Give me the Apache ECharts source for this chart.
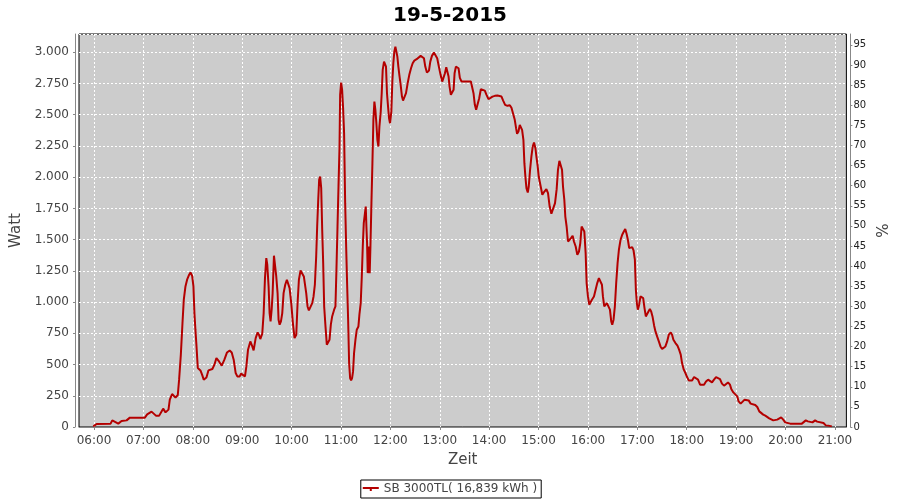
<!DOCTYPE html>
<html>
<head>
<meta charset="utf-8">
<script src="https://cdn.jsdelivr.net/npm/echarts@6/dist/echarts.min.js"></script>
<style>
html,body{margin:0;padding:0;background:#fff;}
#chart{width:900px;height:500px;}
</style>
</head>
<body>
<div id="chart"></div>
<script>
// Chart text
const titleText = "19-5-2015";
const seriesName = "SB 3000TL( 16,839 kWh )";
const xAxisName = "Zeit";
const yAxisName = "Watt";
const y2AxisName = "%";

// X tick positions (minutes since midnight) and labels
const hourTicks = [360, 420, 480, 540, 600, 660, 720, 780, 840, 900, 960, 1020, 1080, 1140, 1200, 1260];
const hourLabels = ["06:00","07:00","08:00","09:00","10:00","11:00","12:00","13:00","14:00","15:00","16:00","17:00","18:00","19:00","20:00","21:00"];

// Sample times (minutes since midnight)
const times = [
359.2,363.2,380.2,382.2,384.6,389.5,393.5,399.6,403.6,421.8,424.6,429.9,435.2,439.2,444.0,446.9,450.5,452.1,454.9,457.0,
459.0,461.8,463.4,465.5,467.5,469.1,471.1,473.1,475.6,477.2,479.2,480.8,482.0,483.2,484.4,486.1,489.3,491.3,493.3,496.6,
499.0,503.8,506.3,508.7,511.9,515.2,518.4,521.6,524.8,527.3,529.7,532.1,534.1,537.0,538.6,541.0,543.4,545.1,547.1,549.9,
552.3,553.9,556.4,558.8,560.4,562.0,564.4,566.1,567.7,569.3,570.5,572.1,573.3,574.5,575.8,577.0,578.6,580.2,581.4,583.0,
584.2,585.5,587.1,588.7,590.3,592.3,594.3,596.0,597.6,599.6,601.6,603.6,605.7,607.3,608.9,610.9,612.9,614.9,617.8,619.4,
621.0,623.4,625.1,626.7,628.3,629.9,631.1,632.3,633.5,634.7,636.0,637.2,638.4,639.6,641.2,642.8,644.4,646.1,647.7,649.3,
651.7,653.3,654.5,655.8,657.0,658.2,659.0,660.2,661.4,662.6,663.8,665.1,666.3,667.5,668.7,669.9,671.1,672.3,673.5,674.7,
675.9,677.6,679.2,681.2,682.4,684.0,685.3,686.5,687.7,688.9,690.1,690.9,691.7,692.5,693.3,694.1,694.9,695.8,697.0,698.2,
699.4,700.6,701.8,703.0,704.2,705.5,706.7,708.3,709.5,710.7,712.3,713.5,714.7,715.9,717.2,718.4,719.6,721.2,722.4,723.6,
724.8,726.1,727.3,728.5,729.7,730.9,732.5,734.1,735.4,737.0,739.0,741.0,743.0,745.1,747.1,749.1,751.9,754.3,756.8,758.8,
760.8,762.4,764.4,766.9,768.5,770.5,772.9,774.9,776.9,778.9,781.0,783.0,784.6,786.3,787.9,789.5,790.7,791.9,793.5,795.2,
796.8,798.0,799.6,801.2,802.8,804.4,806.5,811.7,817.8,819.4,821.0,822.6,824.2,825.9,827.9,829.9,832.3,834.7,836.8,839.2,
841.6,844.0,846.9,850.1,855.0,857.0,859.4,862.2,865.1,867.1,869.1,871.1,872.7,873.9,875.6,877.2,878.8,880.0,881.6,882.8,
884.0,885.3,886.9,888.1,889.7,891.3,892.9,894.5,896.2,897.4,899.0,900.2,902.6,904.6,907.1,909.5,911.5,913.5,915.6,918.0,
920.0,922.0,923.6,925.3,926.9,928.5,929.7,931.3,932.5,934.1,935.8,937.8,939.4,941.4,943.0,945.1,947.1,949.1,950.7,952.3,
953.9,955.6,957.2,958.4,960.0,961.6,963.2,964.8,967.3,969.3,971.3,973.3,975.4,977.0,978.2,979.8,981.4,983.0,985.1,986.7,
988.3,989.5,991.1,992.7,994.3,996.0,997.6,999.6,1001.6,1003.6,1005.3,1006.9,1008.5,1010.1,1012.1,1013.7,1015.4,1017.0,1018.2,1019.4,
1020.6,1022.2,1023.8,1025.5,1027.1,1028.7,1030.3,1031.9,1033.5,1035.2,1036.8,1038.4,1040.4,1042.0,1044.0,1046.1,1048.1,1050.1,1052.1,1054.1,
1056.2,1058.2,1060.6,1062.2,1063.8,1066.3,1068.7,1070.7,1072.7,1074.3,1076.4,1078.4,1080.4,1082.4,1084.4,1086.5,1088.9,1091.3,1093.7,1096.2,
1098.6,1101.0,1103.4,1105.9,1108.3,1110.7,1113.1,1115.6,1118.0,1120.4,1122.8,1125.3,1127.7,1130.1,1132.5,1134.1,1136.6,1139.0,1141.4,1143.0,
1145.5,1147.9,1150.3,1152.7,1155.2,1157.6,1160.0,1163.2,1165.7,1168.1,1170.5,1172.9,1175.4,1177.8,1180.2,1182.6,1185.1,1187.5,1189.9,1192.3,
1194.7,1197.2,1199.6,1202.0,1205.7,1219.8,1222.2,1224.6,1227.1,1229.5,1232.7,1235.9,1238.4,1240.8,1246.1,1248.9,1252.1,1256.2
];

// Power output (W) at each sample time
const watt = [
5,24,27,53,53,27,48,53,75,75,101,123,91,91,147,117,139,219,264,267,
235,256,379,579,832,1019,1125,1179,1219,1237,1211,1125,912,779,659,472,453,419,379,397,
453,464,499,552,525,491,539,597,613,597,539,432,405,405,427,411,405,485,619,685,
645,613,712,757,739,704,747,912,1192,1352,1299,1125,912,845,939,1072,1371,1365,1205,1072,
859,819,845,912,1072,1139,1179,1173,1112,992,832,712,739,992,1179,1253,1264,1205,1072,965,
933,933,992,1045,1139,1365,1605,1805,1979,2005,1912,1579,1312,965,805,659,672,699,819,885,
939,965,1259,1605,1925,2232,2659,2757,2699,2552,2352,1792,1445,1139,859,512,392,373,392,445,
592,699,779,805,899,992,1205,1445,1632,1699,1765,1605,1472,1232,1312,1445,1232,1445,1792,2112,
2459,2605,2539,2432,2299,2245,2405,2525,2672,2859,2925,2939,2885,2672,2565,2472,2432,2525,2765,2912,
3005,3045,3032,2965,2885,2819,2739,2645,2613,2619,2672,2752,2819,2872,2912,2933,2944,2952,2971,2987,
2952,2885,2837,2853,2925,2971,2997,2992,2952,2885,2819,2765,2779,2832,2880,2872,2805,2725,2659,2645,
2699,2832,2885,2891,2872,2795,2765,2765,2765,2752,2672,2579,2539,2552,2632,2704,2712,2693,2659,2624,
2632,2645,2651,2653,2645,2613,2579,2571,2576,2555,2507,2459,2392,2347,2365,2419,2419,2379,2299,2112,
2005,1912,1877,1925,2059,2165,2245,2277,2232,2165,2085,2005,1925,1859,1885,1904,1872,1765,1707,1707,
1792,1904,2059,2131,2125,2059,1925,1819,1685,1605,1485,1477,1512,1531,1485,1445,1379,1405,1472,1605,
1605,1565,1392,1152,1045,979,979,1019,1045,1059,1152,1192,1205,1139,1045,965,965,992,987,939,
845,819,859,965,1152,1312,1419,1499,1539,1565,1584,1547,1499,1432,1432,1440,1413,1339,1099,992,
939,979,1045,1059,1032,952,885,880,925,944,925,885,811,765,725,685,645,624,624,645,
685,739,757,739,699,672,651,619,579,512,459,432,400,373,357,373,400,405,379,339,
331,339,365,379,365,357,379,400,405,384,347,331,347,357,339,304,277,267,245,205,
187,197,219,232,213,187,171,176,160,125,112,99,91,80,69,59,53,53,59,72,
77,59,37,21,27,27,37,53,45,32,37,53,43,32,32,13,11,5
];

// Right axis tick step (%)
const pctInterval = 5;

const chart = echarts.init(document.getElementById('chart'), null, {renderer: 'canvas'});
const FONT = 'DejaVu Sans';
const points = times.map((t, i) => [t, watt[i]]);

function fmtWatt(v) {
  v = Math.round(v);
  if (v >= 1000) {
    const r = v % 1000;
    return Math.floor(v / 1000) + '.' + String(r).padStart(3, '0');
  }
  return String(v);
}
function fmtTime(v) {
  const h = Math.floor(v / 60), m = Math.round(v % 60);
  return String(h).padStart(2, '0') + ':' + String(m).padStart(2, '0');
}

chart.setOption({
  animation: false,
  backgroundColor: '#ffffff',
  title: {
    text: titleText,
    left: 'center',
    top: 1,
    textStyle: {fontFamily: FONT, fontSize: 20, fontWeight: 'bold', color: '#000'}
  },
  legend: {
    bottom: 2,
    left: 'center',
    data: [seriesName],
    borderColor: '#000',
    borderWidth: 1,
    borderRadius: 0,
    padding: [3, 4, 3, 2],
    itemWidth: 16,
    itemHeight: 6,
    icon: 'path://M0,2 L16,2 L16,4 L0,4 Z M7,2 L9,2 L9,6 L7,6 Z',
    textStyle: {fontFamily: FONT, fontSize: 12, color: '#444'}
  },
  grid: {
    left: 79, top: 34, width: 769, height: 393,
    show: true,
    backgroundColor: '#cccccc',
    borderColor: '#000',
    borderWidth: 1,
    containLabel: false
  },
  xAxis: {
    type: 'value',
    min: 341.8,
    max: 1273.9,
    offset: 4,
    name: xAxisName,
    nameLocation: 'middle',
    nameGap: 22,
    nameTextStyle: {fontFamily: FONT, fontSize: 15, color: '#444'},
    axisLine: {show: true, lineStyle: {color: '#888', width: 1}},
    axisTick: {show: true, length: 3, inside: false, customValues: hourTicks, lineStyle: {color: '#888'}},
    axisLabel: {
      customValues: hourTicks,
      formatter: (v) => { const i = hourTicks.indexOf(v); return i >= 0 ? hourLabels[i] : fmtTime(v); },
      fontFamily: FONT, fontSize: 12, color: '#444', margin: 4
    },
    splitLine: {show: true, lineStyle: {color: '#ffffff', type: [2, 2], width: 1}}
  },
  yAxis: [
    {
      type: 'value',
      min: 0,
      max: 3146,
      interval: 250,
      offset: 4,
      position: 'left',
      name: yAxisName,
      nameLocation: 'middle',
      nameGap: 50,
      nameRotate: 90,
      nameTextStyle: {fontFamily: FONT, fontSize: 15, color: '#444'},
      axisLine: {show: true, lineStyle: {color: '#888', width: 1}},
      axisTick: {show: true, length: 2, inside: false, lineStyle: {color: '#888'}},
      axisLabel: {formatter: fmtWatt, fontFamily: FONT, fontSize: 12, color: '#444', margin: 6, showMaxLabel: false},
      splitLine: {show: true, lineStyle: {color: '#ffffff', type: [2, 2], width: 1}}
    },
    {
      type: 'value',
      min: 0,
      max: 97.7,
      interval: pctInterval,
      offset: 4,
      position: 'right',
      name: y2AxisName,
      nameLocation: 'middle',
      nameGap: 24,
      nameRotate: 90,
      nameTextStyle: {fontFamily: FONT, fontSize: 15, color: '#444'},
      axisLine: {show: true, lineStyle: {color: '#888', width: 1}},
      axisTick: {show: true, length: 2, inside: false, lineStyle: {color: '#888'}},
      axisLabel: {fontFamily: FONT, fontSize: 10, color: '#222', margin: 3, showMaxLabel: false},
      splitLine: {show: false}
    }
  ],
  series: [{
    name: seriesName,
    type: 'line',
    yAxisIndex: 0,
    data: points,
    showSymbol: false,
    symbol: 'none',
    lineStyle: {color: '#b40000', width: 2},
    itemStyle: {color: '#b40000'},
    smooth: false
  }]
});
</script>
</body>
</html>
